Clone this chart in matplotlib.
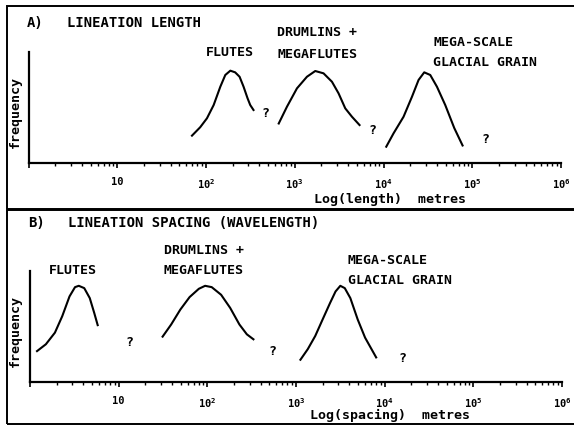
import numpy as np
import matplotlib.pyplot as plt
from matplotlib.patches import Rectangle
from matplotlib.ticker import FixedLocator, FixedFormatter, LogLocator, NullFormatter

plt.rcParams['font.family'] = 'DejaVu Sans Mono'
plt.rcParams['font.weight'] = 'bold'
plt.rcParams['mathtext.fontset'] = 'custom'
plt.rcParams['mathtext.rm'] = 'DejaVu Sans Mono:bold'
plt.rcParams['mathtext.default'] = 'rm'

# ---- data (x in metres, y = relative frequency 0-10)
# A) lineation length
len_flutes_x = [69.5, 86, 102.5, 122, 145, 165, 188, 213, 239, 265, 294, 315, 343]
len_flutes_y = [2.43, 3.19, 4.0, 5.2, 6.86, 7.92, 8.31, 8.16, 7.76, 6.86, 5.81, 5.2, 4.75]
len_drumlins_x = [660, 817, 1059, 1372, 1702, 2110, 2625, 3116, 3708, 4413, 5370]
len_drumlins_y = [3.53, 5.05, 6.71, 7.76, 8.28, 8.07, 7.31, 6.26, 4.9, 4.14, 3.39]
len_mega_x = [10740, 12980, 16820, 20930, 24840, 28780, 33630, 40000, 49630, 62700, 77800]
len_mega_y = [1.43, 2.64, 4.14, 5.95, 7.47, 8.16, 7.92, 6.86, 5.2, 3.12, 1.54]
len_unknown_x = [466, 7413, 140000]
len_unknown_y = [4.45, 2.94, 2.08]

# B) lineation spacing (wavelength)
sp_flutes_x = [1.2, 1.51, 1.91, 2.31, 2.79, 3.22, 3.55, 4.09, 4.72, 5.3, 5.8]
sp_flutes_y = [2.75, 3.37, 4.42, 5.91, 7.70, 8.54, 8.66, 8.45, 7.55, 6.21, 5.1]
sp_drumlins_x = [31.3, 39.1, 49.6, 63.1, 80.2, 94.4, 112, 143, 181, 230, 279, 331]
sp_drumlins_y = [4.06, 5.16, 6.51, 7.64, 8.39, 8.66, 8.54, 7.85, 6.66, 5.16, 4.27, 3.82]
sp_mega_x = [1122, 1358, 1648, 1995, 2420, 2793, 3162, 3548, 4100, 4966, 6012, 8017]
sp_mega_y = [1.97, 2.93, 4.12, 5.61, 7.10, 8.15, 8.66, 8.45, 7.55, 5.61, 3.97, 2.18]
sp_unknown_x = [13.4, 546, 15700]
sp_unknown_y = [3.55, 2.69, 2.09]

decades = [1, 10, 1e2, 1e3, 1e4, 1e5, 1e6]
decade_labels = ['', '10', '$10^{2}$', '$10^{3}$', '$10^{4}$', '$10^{5}$', '$10^{6}$']

W, H = 574, 426


def fx(x):
    return x / W


def fy(y):
    return 1 - y / H


def make_axes(left, right, top, bottom):
    ax = fig.add_axes([fx(left), fy(bottom), fx(right) - fx(left), fy(top) - fy(bottom)])
    ax.set_xscale('log')
    ax.set_xlim(1, 1e6)
    ax.set_ylim(0, 10)
    for s in ['top', 'right']:
        ax.spines[s].set_visible(False)
    for s in ['left', 'bottom']:
        ax.spines[s].set_linewidth(1.6)
    ax.set_yticks([])
    ax.xaxis.set_major_locator(FixedLocator(decades))
    ax.xaxis.set_major_formatter(FixedFormatter(decade_labels))
    ax.xaxis.set_minor_locator(LogLocator(base=10, subs=np.arange(2, 10)))
    ax.xaxis.set_minor_formatter(NullFormatter())
    ax.tick_params(axis='x', which='major', direction='out', length=3.5, width=1.2,
                   labelsize=7.5, pad=7)
    ax.tick_params(axis='x', which='minor', direction='out', length=2.5, width=1)
    ax.patch.set_alpha(0)
    return ax


fig = plt.figure(figsize=(5.74, 4.26), dpi=100)

# panel frames
for top, bottom in [(6, 209), (210, 424)]:
    fig.add_artist(Rectangle((fx(7), fy(bottom)), fx(590) - fx(7), fy(top) - fy(bottom),
                             transform=fig.transFigure, fill=False, lw=1.4,
                             edgecolor='black', clip_on=False))

lw = 1.5
ax1 = make_axes(28.5, 561, 52, 162.5)
ax1.plot(len_flutes_x, len_flutes_y, color='black', lw=lw, solid_joinstyle='round')
ax1.plot(len_drumlins_x, len_drumlins_y, color='black', lw=lw, solid_joinstyle='round')
ax1.plot(len_mega_x, len_mega_y, color='black', lw=lw, solid_joinstyle='round')
for x, y in zip(len_unknown_x, len_unknown_y):
    ax1.text(x, y, '?', ha='center', va='center', fontsize=9.5)

ax2 = make_axes(30, 562, 271, 381.5)
ax2.plot(sp_flutes_x, sp_flutes_y, color='black', lw=lw, solid_joinstyle='round')
ax2.plot(sp_drumlins_x, sp_drumlins_y, color='black', lw=lw, solid_joinstyle='round')
ax2.plot(sp_mega_x, sp_mega_y, color='black', lw=lw, solid_joinstyle='round')
for x, y in zip(sp_unknown_x, sp_unknown_y):
    ax2.text(x, y, '?', ha='center', va='center', fontsize=9.5)

# text, panel A
fig.text(fx(27), fy(23), 'A)', ha='left', va='center', fontsize=10)
fig.text(fx(67), fy(23), 'LINEATION LENGTH', ha='left', va='center', fontsize=10)
fig.text(fx(230), fy(53), 'FLUTES', ha='center', va='center', fontsize=9.5)
fig.text(fx(317), fy(33), 'DRUMLINS +', ha='center', va='center', fontsize=9.5)
fig.text(fx(317), fy(54), 'MEGAFLUTES', ha='center', va='center', fontsize=9.5)
fig.text(fx(433), fy(42), 'MEGA-SCALE', ha='left', va='center', fontsize=9.5)
fig.text(fx(433), fy(62), 'GLACIAL GRAIN', ha='left', va='center', fontsize=9.5)
fig.text(fx(390), fy(200), 'Log(length)  metres', ha='center', va='center', fontsize=9.5)
fig.text(fx(15), fy(112), 'frequency', ha='center', va='center', rotation=90, fontsize=9.5)

# text, panel B
fig.text(fx(28), fy(223), 'B)', ha='left', va='center', fontsize=10)
fig.text(fx(68), fy(223), 'LINEATION SPACING (WAVELENGTH)', ha='left', va='center', fontsize=10)
fig.text(fx(73), fy(270), 'FLUTES', ha='center', va='center', fontsize=9.5)
fig.text(fx(204), fy(251), 'DRUMLINS +', ha='center', va='center', fontsize=9.5)
fig.text(fx(204), fy(270), 'MEGAFLUTES', ha='center', va='center', fontsize=9.5)
fig.text(fx(348), fy(260), 'MEGA-SCALE', ha='left', va='center', fontsize=9.5)
fig.text(fx(348), fy(280), 'GLACIAL GRAIN', ha='left', va='center', fontsize=9.5)
fig.text(fx(390), fy(415), 'Log(spacing)  metres', ha='center', va='center', fontsize=9.5)
fig.text(fx(15), fy(331), 'frequency', ha='center', va='center', rotation=90, fontsize=9.5)

fig.savefig('out.png', dpi=100)
